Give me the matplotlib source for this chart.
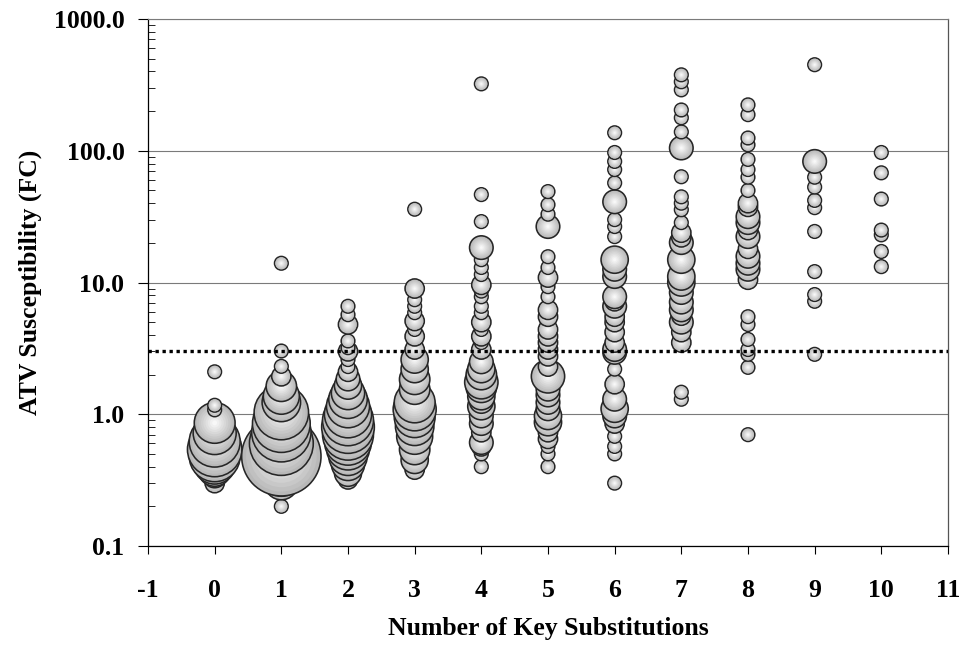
import numpy as np
import matplotlib.pyplot as plt

# ATV fold change (FC) of each bubble and number of isolates it stands for,
# one pair of lists per number of key substitutions
fc_0 = [0.30, 0.34, 0.38, 0.43, 0.48, 0.54, 0.62, 0.72, 0.86, 1.08, 1.17, 2.1]
n_0 = [2, 3, 6, 10, 14, 16, 14, 10, 9, 1, 1, 1]

fc_1 = [0.2, 0.30, 0.36, 0.42, 0.48, 0.60, 0.73, 0.85, 1.03, 1.23, 1.37, 1.63, 1.94, 2.31, 3.02, 14.0]
n_1 = [1, 6, 12, 18, 34, 22, 19, 18, 16, 8, 7, 5, 2, 1, 1, 1]

fc_2 = [0.32, 0.36, 0.42, 0.48, 0.55, 0.62, 0.70, 0.80, 0.90, 1.0, 1.15, 1.3, 1.45, 1.65, 1.85,
        2.1, 2.3, 2.6, 3.0, 3.2, 3.6, 4.8, 5.7, 6.6]
n_2 = [2, 4, 6, 8, 10, 12, 14, 15, 14, 12, 10, 8, 6, 4, 3, 2, 1, 1, 2, 1, 1, 2, 1, 1]

fc_3 = [0.38, 0.45, 0.54, 0.68, 0.81, 0.95, 1.09, 1.23, 1.55, 1.84, 2.2, 2.6, 3.1, 3.9, 4.4,
        5.1, 5.9, 6.6, 7.4, 9.0, 36.0]
n_3 = [2, 4, 5, 7, 8, 9, 10, 9, 5, 5, 4, 4, 2, 2, 1, 2, 1, 1, 1, 2, 1]

fc_4 = [0.40, 0.50, 0.57, 0.61, 0.73, 0.85, 0.97, 1.15, 1.25, 1.37, 1.6, 1.75, 2.0, 2.2, 2.5,
        3.1, 3.5, 3.9, 4.4, 5.0, 5.9, 6.6, 7.8, 8.6, 9.6, 11.5, 13.0, 14.9, 18.4, 29.0, 46.5, 322.0]
n_4 = [1, 1, 2, 3, 2, 3, 3, 4, 3, 4, 5, 6, 5, 4, 3, 2, 1, 2, 1, 2, 1, 1, 1, 1, 2, 1, 1, 1, 3, 1, 1, 1]

fc_5 = [0.40, 0.50, 0.57, 0.65, 0.73, 0.87, 0.97, 1.1, 1.23, 1.4, 1.55, 1.94, 2.3, 2.75, 3.1,
        3.5, 3.9, 4.4, 5.5, 6.2, 7.8, 9.3, 10.9, 13.0, 15.7, 26.6, 33.0, 39.0, 49.0]
n_5 = [1, 1, 1, 2, 2, 4, 4, 3, 3, 3, 3, 6, 2, 2, 2, 2, 2, 2, 2, 2, 1, 1, 2, 1, 1, 3, 1, 1, 1]

fc_6 = [0.30, 0.50, 0.57, 0.68, 0.85, 0.97, 1.1, 1.3, 1.69, 2.2, 2.95, 3.1, 3.5, 4.2, 5.0, 5.5,
        6.6, 7.2, 7.8, 11.1, 12.6, 14.9, 22.3, 26.6, 30.0, 41.0, 57.0, 72.0, 83.0, 97.0, 137.0]
n_6 = [1, 1, 1, 1, 2, 3, 4, 3, 2, 1, 3, 3, 2, 2, 2, 2, 3, 2, 3, 3, 3, 4, 1, 1, 1, 3, 1, 1, 1, 1, 1]

fc_7 = [1.3, 1.47, 3.5, 4.2, 5.0, 5.6, 6.2, 7.1, 8.4, 10.0, 11.1, 14.9, 20.1, 22.0, 23.9, 28.5,
        35.7, 40.0, 44.7, 63.5, 105.0, 139.0, 178.0, 204.0, 290.0, 334.0, 377.0]
n_7 = [1, 1, 2, 2, 3, 2, 3, 3, 3, 4, 4, 4, 3, 2, 2, 1, 1, 1, 1, 1, 3, 1, 1, 1, 1, 1, 1]

fc_8 = [0.70, 2.27, 2.85, 3.1, 3.7, 4.8, 5.5, 10.5, 12.6, 14.0, 15.8, 18.0, 22.3, 25.0, 28.5,
        31.6, 37.5, 40.0, 50.0, 63.0, 72.0, 86.0, 111.0, 125.0, 188.0, 223.0]
n_8 = [1, 1, 1, 1, 1, 1, 1, 2, 3, 3, 3, 2, 3, 2, 3, 3, 2, 2, 1, 1, 1, 1, 1, 1, 1, 1]

fc_9 = [2.85, 7.2, 8.1, 12.1, 24.4, 37.0, 42.0, 53.0, 63.0, 83.0, 450.0]
n_9 = [1, 1, 1, 1, 1, 1, 1, 1, 1, 3, 1]

fc_10 = [13.2, 17.2, 23.0, 25.0, 43.0, 68.0, 97.0]
n_10 = [1, 1, 1, 1, 1, 1, 1]

fc_columns = [fc_0, fc_1, fc_2, fc_3, fc_4, fc_5, fc_6, fc_7, fc_8, fc_9, fc_10]
n_columns = [n_0, n_1, n_2, n_3, n_4, n_5, n_6, n_7, n_8, n_9, n_10]

cutoff = 3.0
x_ticks = list(range(-1, 12))
y_ticks = [0.1, 1, 10, 100, 1000]
y_tick_labels = ["0.1", "1.0", "10.0", "100.0", "1000.0"]

# marker area per isolate (points^2) and the shading rings of a bubble
size_per_isolate = 96
ring_scale = np.linspace(1.0, 0.12, 9)
ring_colors = [plt.cm.gray(v) for v in np.linspace(0.72, 0.97, 9)]

plt.rcParams['font.family'] = ['Liberation Serif', 'DejaVu Serif']
plt.rcParams['font.weight'] = 'bold'

fig = plt.figure(figsize=(9.63, 6.49), dpi=100)
ax = fig.add_axes([0.1537, 0.1587, 0.8307, 0.812])

# draw bubbles from low to high FC so the upper ones overlap the lower ones
z = 2
for subs, (fcs, counts) in enumerate(zip(fc_columns, n_columns)):
    order = np.argsort(fcs)
    for i in order:
        s = size_per_isolate * counts[i]
        sizes = [s * f ** 2 for f in ring_scale]
        edges = ["#262626"] + ["none"] * (len(ring_scale) - 1)
        widths = [1.15] + [0] * (len(ring_scale) - 1)
        ax.scatter([subs] * len(ring_scale), [fcs[i]] * len(ring_scale), s=sizes,
                   c=ring_colors, edgecolors=edges, linewidths=widths, zorder=z)
        z += 1

# phenotypic cutoff
ax.axhline(cutoff, color="black", linestyle=(0, (1, 1.1)), linewidth=2.4, zorder=z + 1)

ax.set_yscale("log")
ax.set_xlim(-1, 11)
ax.set_ylim(0.1, 1000)
ax.set_xticks(x_ticks)
ax.set_xticklabels([str(t) for t in x_ticks])
ax.set_yticks(y_ticks)
ax.set_yticklabels(y_tick_labels)
ax.yaxis.set_minor_locator(plt.matplotlib.ticker.LogLocator(base=10, subs=np.arange(2, 10)))
ax.yaxis.set_minor_formatter(plt.NullFormatter())

ax.grid(axis="y", which="major", color="#7a7a7a", linewidth=0.8, zorder=0)
ax.set_axisbelow(True)

ax.tick_params(axis="y", which="major", direction="out", length=7, width=0.8,
               labelsize=18.5, pad=10)
ax.tick_params(axis="y", which="minor", direction="in", length=5, width=0.6)
ax.tick_params(axis="x", which="major", direction="out", length=6, width=0.8,
               labelsize=18.5, pad=18)

for side in ["left", "bottom"]:
    ax.spines[side].set_color("black")
    ax.spines[side].set_linewidth(0.9)
ax.spines["top"].set_color("#7a7a7a")
ax.spines["top"].set_linewidth(0.8)
ax.spines["right"].set_color("#555555")
ax.spines["right"].set_linewidth(0.9)

ax.set_xlabel("Number of Key Substitutions", fontsize=18.5, fontweight="bold")
ax.set_ylabel("ATV Susceptibility (FC)", fontsize=18.5, fontweight="bold")
ax.xaxis.set_label_coords(0.5, -0.135)
ax.yaxis.set_label_coords(-0.132, 0.5)

fig.savefig("out.png", dpi=100)
